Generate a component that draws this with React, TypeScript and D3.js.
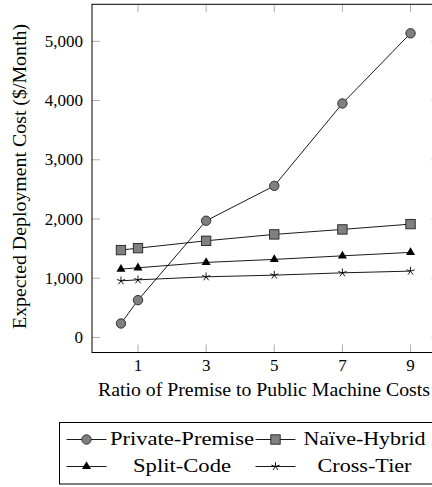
import React, { useEffect, useRef } from 'react';
import * as d3 from 'd3';

const ratios = [0.5, 1, 3, 5, 7, 9];
const xTicks = [1, 3, 5, 7, 9];
const yTicks = [0, 1000, 2000, 3000, 4000, 5000];

const privatePremise = [236, 630, 1970, 2560, 3950, 5135];
const naiveHybrid = [1475, 1508, 1632, 1740, 1824, 1914];
const splitCode = [1154, 1176, 1267, 1318, 1378, 1436];
const crossTier = [956, 973, 1024, 1052, 1091, 1120];

const seriesNames = ['Private-Premise', 'Naïve-Hybrid', 'Split-Code', 'Cross-Tier'];
const seriesMarks = ['circle', 'square', 'triangle', 'star'];

const FONT = '"Liberation Serif", serif';

const drawMark = (g: any, kind: string, cx: number, cy: number) => {
  if (kind === 'circle') {
    g.append('circle').attr('cx', cx).attr('cy', cy).attr('r', 4.7)
      .attr('fill', '#808080').attr('stroke', '#222').attr('stroke-width', 0.9);
  } else if (kind === 'square') {
    g.append('rect').attr('x', cx - 4.7).attr('y', cy - 4.7).attr('width', 9.4).attr('height', 9.4)
      .attr('fill', '#808080').attr('stroke', '#222').attr('stroke-width', 0.9);
  } else if (kind === 'triangle') {
    const r = 5.2;
    const s = r * Math.sin(Math.PI / 3);
    g.append('path')
      .attr('d', `M${cx},${cy - r}L${cx + s},${cy + r / 2}L${cx - s},${cy + r / 2}Z`)
      .attr('fill', '#000');
  } else {
    const r = 4.3;
    let d = '';
    for (let k = 0; k < 5; k++) {
      const a = -Math.PI / 2 + (k * 2 * Math.PI) / 5;
      d += `M${cx},${cy}L${cx + r * Math.cos(a)},${cy + r * Math.sin(a)}`;
    }
    g.append('path').attr('d', d).attr('stroke', '#000').attr('stroke-width', 0.9).attr('fill', 'none');
  }
};

const App: React.FC = () => {
  const ref = useRef(null);

  useEffect(() => {
    if (!ref.current) return;
    const svg = d3.select(ref.current);
    svg.selectAll('*').remove();

    const left = 92, right = 439.5, top = 4.3, bottom = 352.5;

    const x = d3.scaleLinear().domain([-0.35, 9.85]).range([left, right]);
    const y = d3.scaleLinear().domain([-254, 5625]).range([bottom, top]);

    // ticks (inside, both sides)
    const tl = 8;
    const ticks = svg.append('g').attr('stroke', '#999').attr('stroke-width', 0.8);
    xTicks.forEach(t => {
      ticks.append('line').attr('x1', x(t)).attr('x2', x(t)).attr('y1', bottom).attr('y2', bottom - tl);
      ticks.append('line').attr('x1', x(t)).attr('x2', x(t)).attr('y1', top).attr('y2', top + tl);
    });
    yTicks.forEach(t => {
      ticks.append('line').attr('x1', left).attr('x2', left + tl).attr('y1', y(t)).attr('y2', y(t));
      ticks.append('line').attr('x1', right).attr('x2', right - tl).attr('y1', y(t)).attr('y2', y(t));
    });

    // frame
    svg.append('rect')
      .attr('x', left).attr('y', top).attr('width', right - left).attr('height', bottom - top)
      .attr('fill', 'none').attr('stroke', '#000').attr('stroke-width', 1);

    const fmt = d3.format(',');
    svg.append('g').selectAll('text').data(xTicks).enter().append('text')
      .attr('x', d => x(d)).attr('y', 371)
      .attr('text-anchor', 'middle').attr('font-family', FONT).attr('font-size', 17)
      .text(d => String(d));
    svg.append('g').selectAll('text').data(yTicks).enter().append('text')
      .attr('x', 83).attr('y', d => y(d) + 5.7)
      .attr('text-anchor', 'end').attr('font-family', FONT).attr('font-size', 17)
      .text(d => fmt(d));

    svg.append('text')
      .attr('x', 264).attr('y', 395.7)
      .attr('text-anchor', 'middle').attr('font-family', FONT).attr('font-size', 18)
      .attr('textLength', 332).attr('lengthAdjust', 'spacingAndGlyphs')
      .text('Ratio of Premise to Public Machine Costs');
    svg.append('text')
      .attr('transform', `translate(26,176.5) rotate(-90)`)
      .attr('text-anchor', 'middle').attr('font-family', FONT).attr('font-size', 18)
      .attr('textLength', 305).attr('lengthAdjust', 'spacingAndGlyphs')
      .text('Expected Deployment Cost ($/Month)');

    const allSeries = [privatePremise, naiveHybrid, splitCode, crossTier];
    const line = d3.line<number>().x((_, i) => x(ratios[i])).y(d => y(d));

    allSeries.forEach((vals, si) => {
      const g = svg.append('g');
      g.append('path').attr('d', line(vals)).attr('fill', 'none')
        .attr('stroke', '#000').attr('stroke-width', 0.9);
      vals.forEach((v, i) => drawMark(g, seriesMarks[si], x(ratios[i]), y(v)));
    });

    // legend
    const lg = svg.append('g');
    lg.append('rect').attr('x', 59.5).attr('y', 422.5).attr('width', 390).attr('height', 61.5)
      .attr('fill', '#fff').attr('stroke', '#000').attr('stroke-width', 1);
    const rowsY = [439.5, 466.5];
    const colSample = [66.5, 255.5];
    const colText = [182, 364.5];
    const textLens = [144, 122, 98, 94];
    seriesNames.forEach((name, i) => {
      const row = Math.floor(i / 2);
      const col = i % 2;
      const ly = rowsY[row];
      lg.append('line').attr('x1', colSample[col]).attr('x2', colSample[col] + 40)
        .attr('y1', ly).attr('y2', ly).attr('stroke', '#000').attr('stroke-width', 0.9);
      drawMark(lg, seriesMarks[i], colSample[col] + 20, ly);
      lg.append('text').attr('x', colText[col]).attr('y', ly + 5.5)
        .attr('text-anchor', 'middle').attr('font-family', FONT).attr('font-size', 19)
        .attr('textLength', textLens[i]).attr('lengthAdjust', 'spacingAndGlyphs')
        .text(name);
    });
  }, []);

  return (
    <svg
      ref={ref}
      width={432}
      height={487}
      style={{ position: 'absolute', left: 0, top: 0, background: '#fff' }}
    />
  );
};

export default App;
